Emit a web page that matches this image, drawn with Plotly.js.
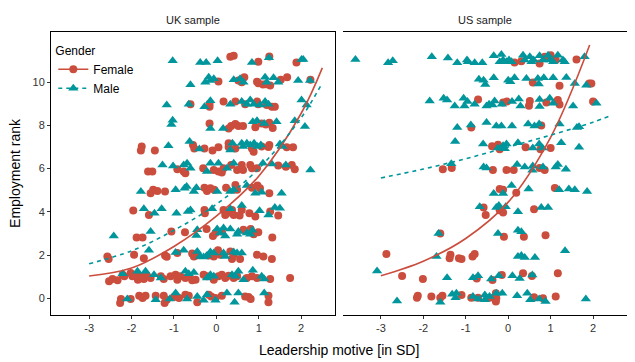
<!DOCTYPE html>
<html>
<head>
<meta charset="utf-8">
<script src="https://cdn.plot.ly/plotly-3.0.1.min.js"></script>
<style>html,body{margin:0;padding:0;background:#fff;}#chart{width:635px;height:362px;}</style>
</head>
<body>
<div id="chart"></div>
<script>
// ---------- DATA ----------
const panels = ["UK sample", "US sample"];
const genders = ["Female", "Male"];
const xTickVals = [-3, -2, -1, 0, 1, 2];
const xTickText = ["-3", "-2", "-1", "0", "1", "2"];
const yTickVals = [0, 2, 4, 6, 8, 10];
const yTickText = ["0", "2", "4", "6", "8", "10"];

// UK sample, Female (x = leadership motive, y = jittered employment rank)
const ukFemaleX = [0.33,0.41,0.99,1.25,1.89,
 0.05,0.52,0.66,0.60,0.96,0.99,1.10,1.17,1.27,1.52,1.67,2.22,
 -0.61,-0.16,-0.16,0.17,0.45,0.68,0.96,0.99,1.19,1.31,1.38,
 -0.16,0.29,0.35,0.45,0.52,0.63,0.92,1.07,1.17,1.25,1.33,
 -1.76,-1.78,-1.45,-0.55,-0.52,-0.28,-0.09,0.05,0.29,0.29,0.45,0.84,0.88,1.07,1.25,1.23,1.66,1.81,
 -1.61,-1.51,-0.92,-0.77,-0.73,-0.31,-0.06,0.05,0.13,0.17,0.35,0.49,0.60,0.63,0.80,0.84,0.96,1.46,1.64,1.78,1.85,
 -1.55,-1.49,-1.39,-1.21,-0.28,-0.22,-0.14,-0.05,0.23,0.45,0.49,0.84,0.97,1.03,1.25,
 -1.96,-1.59,-0.28,-0.27,0.17,0.21,0.25,0.37,0.41,0.60,0.55,0.78,0.92,1.27,1.46,
 -1.88,-1.74,-1.06,-0.74,-0.23,-0.08,-0.02,0.13,0.64,0.81,0.88,0.99,1.32,
 -2.57,-2.54,-1.94,-1.71,-1.21,-1.17,-0.92,-0.57,-0.53,-0.47,-0.18,-0.06,0.04,0.09,0.33,0.37,0.41,0.56,0.96,1.11,1.31,
 -2.53,-2.45,-2.33,-2.21,-2.17,-2.02,-1.98,-1.90,-1.85,-1.78,-1.71,-1.64,-1.55,-1.31,-1.24,-1.08,-0.96,-0.92,-0.85,-0.73,-0.65,-0.57,-0.49,-0.30,-0.22,-0.06,0.05,0.13,0.21,0.29,0.41,0.49,0.72,0.84,0.96,1.27,1.74,
 -2.25,-2.27,-2.02,-1.82,-1.74,-1.67,-1.43,-1.24,-1.17,-1.22,-1.00,-0.88,-0.73,-0.65,-0.45,-0.18,-0.12,-0.02,0.13,0.68,0.76,0.81,1.23,1.23];
const ukFemaleY = [11.17,11.22,10.94,11.19,10.91,
 10.03,10.08,10.23,10.00,10.02,9.95,9.89,9.90,9.85,10.11,10.23,10.11,
 8.98,8.86,9.00,9.10,9.10,8.98,9.10,8.98,8.94,8.86,8.86,
 8.09,7.86,7.97,8.06,7.97,7.97,7.91,8.09,8.04,8.12,7.88,
 7.02,6.84,6.84,7.09,6.93,6.93,6.84,6.99,7.17,7.00,6.93,6.93,6.78,7.02,7.09,7.00,6.99,6.99,
 5.87,5.87,5.97,5.87,5.79,6.02,5.94,5.87,5.82,6.02,6.17,5.94,6.17,5.94,6.17,6.02,6.02,6.14,6.09,6.17,5.97,
 4.86,5.02,4.97,4.94,5.12,4.97,5.09,5.02,5.12,5.24,5.02,5.12,5.22,5.09,4.86,
 4.06,3.86,4.09,3.94,4.09,3.86,3.94,4.09,3.86,4.09,3.83,3.94,3.79,4.02,3.83,
 2.82,2.82,3.09,3.06,3.21,2.88,3.02,3.09,3.17,3.21,2.97,3.06,2.82,
 1.94,1.82,2.02,1.86,1.98,1.92,2.10,2.07,1.94,1.98,1.98,1.94,2.22,2.02,2.17,1.82,2.02,1.82,2.02,1.94,1.82,
 0.79,0.90,0.84,1.09,1.02,1.17,1.02,1.09,0.86,1.02,0.90,1.05,0.94,1.02,0.90,1.02,1.09,0.86,1.02,0.94,1.02,0.84,0.86,1.09,1.02,0.86,1.02,1.09,0.94,1.05,0.94,1.02,0.94,1.02,0.94,0.90,0.94,
 -0.03,-0.21,-0.03,0.12,0.02,0.12,0.12,0.12,-0.06,-0.21,0.06,0.02,0.17,0.12,-0.18,0.17,0.09,0.02,0.12,0.09,0.06,-0.03,0.12,-0.18];

// UK sample, Male
const ukMaleX = [-1.03,-0.38,-0.24,0.03,0.84,1.24,2.01,2.05,
 -0.61,-0.26,-0.18,-0.14,-0.06,0.41,0.56,0.64,1.15,1.19,1.35,1.46,1.93,2.21,
 -1.17,-0.65,-0.28,-0.14,0.33,0.60,0.72,0.80,0.88,1.03,1.15,1.23,2.01,2.13,
 -1.03,-1.06,-0.14,0.16,0.86,0.96,1.13,1.42,1.85,2.09,
 -1.13,-0.63,-0.40,0.33,0.38,0.60,0.63,0.72,0.80,0.89,0.97,1.05,1.50,1.56,
 -1.27,-1.02,-0.77,-0.69,-0.61,-0.22,-0.14,0.05,0.25,0.41,1.10,1.31,1.64,2.22,
 -1.78,-0.96,-0.75,-0.70,-0.53,-0.47,0.02,0.33,0.41,0.72,0.92,1.07,1.54,
 -1.71,-1.46,-1.29,-0.94,-0.67,-0.61,-0.10,0.33,0.60,1.02,1.23,1.38,1.50,
 -2.42,-1.55,-0.45,-0.47,0.02,0.09,0.17,0.21,0.33,0.49,0.52,0.72,0.80,0.85,
 -1.59,-0.96,-0.77,-0.45,-0.38,-0.30,-0.22,-0.14,-0.06,0.17,0.21,0.41,0.49,0.60,
 -2.21,-1.86,-1.67,-1.47,-1.31,-0.73,-0.65,-0.53,-0.22,-0.14,-0.06,0.37,0.45,0.52,0.64,0.86,1.07,1.13,
 -2.10,-1.43,-1.10,-0.96,-0.69,-0.45,-0.30,-0.22,-0.02,0.25,0.43,0.52,1.13];
const ukMaleY = [10.99,10.91,10.91,10.99,10.91,11.13,11.05,11.05,
 9.88,10.00,10.23,10.08,10.16,10.11,10.16,10.00,10.23,10.00,10.20,10.00,10.08,10.08,
 8.94,8.98,8.86,9.14,8.98,9.10,8.98,9.17,8.98,8.94,9.10,8.98,9.17,8.94,
 8.24,8.04,7.86,7.86,8.17,8.22,8.09,8.17,8.22,7.95,
 7.06,7.25,6.91,6.86,7.17,7.17,7.02,7.17,7.09,7.17,7.02,7.09,7.14,7.02,
 6.17,6.12,6.17,6.25,6.02,5.87,6.25,6.25,6.02,6.25,6.25,6.22,6.17,5.94,
 4.94,5.02,5.09,5.17,4.94,5.12,4.94,4.94,5.02,5.22,4.86,4.91,4.86,
 4.14,3.94,4.14,3.94,4.02,4.09,4.14,4.14,4.30,4.05,3.86,4.20,4.17,
 2.88,3.09,3.17,2.91,3.21,3.02,3.25,2.88,3.21,2.97,3.09,3.02,2.97,3.15,
 2.22,2.12,2.22,2.17,1.94,1.91,1.98,2.14,2.10,2.10,1.94,2.14,2.10,2.10,
 1.14,1.25,1.25,1.09,0.94,1.25,1.14,1.20,0.94,1.09,1.02,1.09,1.02,1.25,0.86,1.30,1.02,0.90,
 -0.03,-0.06,-0.03,0.25,-0.03,0.09,-0.09,0.17,-0.09,0.25,-0.18,0.25,0.25];

// US sample, Female
const usFemaleX = [0.15,0.31,0.74,0.86,1.00,1.12,1.61,
 0.58,1.21,1.91,1.96,
 -0.71,-0.12,-0.03,0.51,0.49,0.90,1.17,1.21,2.00,
 -0.87,0.78,
 -0.38,-0.24,-0.20,0.41,0.76,1.00,
 -1.54,-1.33,-0.36,-0.04,0.13,0.74,0.86,
 -0.20,-0.12,0.19,1.10,
 -0.58,-0.53,-0.20,-0.12,0.61,
 -1.60,-0.10,0.37,0.88,
 -2.87,-1.36,-1.38,-1.16,-1.10,-0.84,-0.79,
 -2.50,-2.01,-0.74,-0.37,-0.15,0.35,0.56,1.17,
 -2.15,-2.13,-1.81,-1.55,-1.60,-1.10,-0.87,-0.71,-0.44,-0.29,-0.29,-0.28,0.61,0.82,1.12];
const usFemaleY = [10.91,10.97,10.86,11.17,11.25,11.02,11.05,
 9.98,9.83,9.94,9.94,
 9.20,9.06,9.10,9.13,8.91,9.06,9.17,8.97,9.10,
 7.90,7.99,
 7.04,7.11,6.90,6.99,6.90,6.95,
 5.97,6.03,5.94,5.94,5.94,6.03,5.94,
 5.06,5.02,4.89,5.11,
 4.20,3.85,4.08,3.97,4.12,
 3.00,2.85,2.85,2.92,
 2.05,2.02,1.86,1.86,1.82,1.94,2.05,
 1.03,0.89,0.92,0.85,1.08,1.16,1.03,1.16,
 0.03,0.12,0.08,0.12,0.03,0.16,0.03,0.03,0.03,0.24,-0.15,0.00,0.05,0.00,0.08];

// US sample, Male
const usMaleX = [-3.60,-2.83,-2.72,-1.80,-1.42,-1.20,-0.97,-0.95,-0.79,-0.61,-0.34,-0.20,-0.16,-0.12,-0.04,0.02,0.08,0.35,0.39,0.51,0.55,0.60,0.74,0.82,0.94,0.98,1.06,1.17,1.29,1.33,1.80,
 -0.69,-0.58,-0.54,-0.34,0.00,0.05,0.15,0.43,0.72,0.70,0.84,1.06,1.37,1.57,1.84,
 -1.85,-1.52,-1.44,-1.26,-1.05,-1.03,-0.96,-0.79,-0.51,-0.45,-0.37,-0.32,-0.15,0.09,0.25,0.29,0.74,0.74,0.98,1.06,1.53,2.08,
 -1.20,-0.88,-0.51,-0.28,-0.16,0.09,0.47,0.62,0.73,1.21,1.62,1.67,
 -1.25,-0.59,-0.24,-0.12,-0.04,-0.08,0.23,0.58,0.73,0.81,1.25,1.67,
 -1.34,-0.58,-0.51,0.21,0.39,0.58,0.57,0.82,1.12,1.17,1.36,
 -0.34,-0.12,0.08,0.48,1.20,1.43,1.57,1.86,
 -0.67,-0.28,-0.22,-0.06,0.23,0.78,0.94,
 -1.64,-0.24,0.23,0.31,
 -1.69,0.23,0.31,0.39,0.63,1.34,
 -3.09,-1.44,-0.83,-0.71,-0.40,-0.22,0.10,0.27,0.57,
 -2.62,-1.60,-1.32,-1.22,-1.24,-0.83,-0.71,-0.55,-0.55,-0.44,-0.28,-0.14,0.21,0.45,0.52,0.73,0.88,1.83];
const usMaleY = [11.05,10.90,10.99,11.17,11.12,10.90,11.02,10.94,10.90,10.90,11.22,10.94,11.28,11.02,10.94,11.02,10.94,11.25,11.02,11.17,10.94,11.02,11.22,11.02,11.25,11.02,10.94,11.25,11.02,10.94,11.17,
 10.14,10.09,9.89,10.20,10.09,10.02,10.20,10.17,9.91,10.17,10.20,10.20,10.22,9.94,9.86,
 9.13,9.25,9.17,8.90,9.25,8.90,9.10,8.98,8.90,8.98,8.94,9.13,8.98,9.10,9.22,8.90,9.20,8.87,9.25,9.02,8.90,9.02,
 7.90,8.02,8.13,7.97,7.97,7.97,8.06,7.97,8.06,8.06,7.90,7.94,
 7.25,7.14,6.95,7.06,7.14,6.92,7.20,6.95,7.14,6.95,7.20,6.99,
 6.23,6.08,6.03,6.19,6.08,6.12,5.92,6.08,6.08,6.19,5.97,
 4.85,4.85,5.22,5.06,5.02,5.06,5.02,4.94,
 4.24,4.20,4.29,4.24,4.01,4.20,4.20,
 3.00,3.00,3.15,3.08,
 1.94,1.94,1.98,1.89,1.89,2.20,
 1.26,0.95,0.95,1.04,0.89,1.04,1.04,0.92,1.08,
 -0.12,-0.18,0.19,0.24,0.03,0.08,-0.03,0.16,-0.07,0.08,0.24,0.24,0.12,0.24,-0.07,-0.03,-0.15,-0.03];

// Fitted curves
const ukFemaleFitX = [-3, -2, -1, 0, 1, 2, 2.5];
const ukFemaleFitY = [1.03, 1.40, 2.40, 3.80, 5.65, 8.55, 10.66];
const ukMaleFitX = [-3, -2, -1, 0, 1, 2, 2.5];
const ukMaleFitY = [1.60, 2.20, 3.15, 4.35, 6.00, 8.35, 9.97];
const usFemaleFitX = [-3, -2, -1, 0, 1, 1.92];
const usFemaleFitY = [1.05, 1.72, 2.77, 4.45, 7.45, 11.72];
const usMaleFitX = [-3, -2, -1, 0, 1, 2, 2.43];
const usMaleFitY = [5.57, 5.98, 6.46, 7.00, 7.55, 8.15, 8.46];

// ---------- STYLE ----------
const RED = "#CB4D3D";
const TEAL = "#00969B";
const FONT = "Liberation Sans, Arial, sans-serif";

function pts(x, y, color, symbol, size, xa, ya) {
  return {type: "scatter", mode: "markers", x: x, y: y, xaxis: xa, yaxis: ya,
    marker: {color: color, symbol: symbol, size: size, line: {width: 0}},
    showlegend: false, hoverinfo: "skip"};
}
function fit(x, y, color, dash, xa, ya) {
  return {type: "scatter", mode: "lines", x: x, y: y, xaxis: xa, yaxis: ya,
    line: {color: color, width: 1.6, dash: dash, shape: "spline"},
    showlegend: false, hoverinfo: "skip"};
}

const data = [
  pts(ukFemaleX, ukFemaleY, RED, "circle", 8, "x", "y"),
  pts(ukMaleX, ukMaleY, TEAL, "triangle-up", 9, "x", "y"),
  pts(usFemaleX, usFemaleY, RED, "circle", 8, "x2", "y"),
  pts(usMaleX, usMaleY, TEAL, "triangle-up", 9, "x2", "y"),
  fit(ukFemaleFitX, ukFemaleFitY, RED, "solid", "x", "y"),
  fit(ukMaleFitX, ukMaleFitY, TEAL, "4px,4px", "x", "y"),
  fit(usFemaleFitX, usFemaleFitY, RED, "solid", "x2", "y"),
  fit(usMaleFitX, usMaleFitY, TEAL, "4px,4px", "x2", "y"),
  // legend entries
  {type: "scatter", mode: "lines+markers", x: [null], y: [null], name: genders[0],
    line: {color: RED, width: 1.6}, marker: {color: RED, symbol: "circle", size: 8}, showlegend: true},
  {type: "scatter", mode: "lines+markers", x: [null], y: [null], name: genders[1],
    line: {color: TEAL, width: 1.6, dash: "4px,4px"}, marker: {color: TEAL, symbol: "triangle-up", size: 9}, showlegend: true}
];

const xCommon = {
  range: [-3.9, 2.8], tickvals: xTickVals, ticktext: xTickText,
  showgrid: false, zeroline: false, showline: true, mirror: true,
  linecolor: "#000", linewidth: 1, ticks: "outside", ticklen: 3, tickcolor: "#333",
  tickfont: {family: FONT, size: 11, color: "#333"}, anchor: "y"
};

const layout = {
  width: 635, height: 362,
  margin: {l: 50.7, r: 7.7, t: 31.5, b: 47, pad: 0},
  paper_bgcolor: "#fff", plot_bgcolor: "#fff",
  font: {family: FONT, color: "#000"},
  xaxis: Object.assign({}, xCommon, {domain: [0, 0.4931]}),
  xaxis2: Object.assign({}, xCommon, {domain: [0.5064, 1]}),
  yaxis: {
    range: [-0.77, 12.32], domain: [0, 1], tickvals: yTickVals, ticktext: yTickText,
    showgrid: false, zeroline: false, showline: true, mirror: true,
    linecolor: "#000", linewidth: 1, ticks: "outside", ticklen: 3, tickcolor: "#333",
    tickfont: {family: FONT, size: 11, color: "#333"},
    title: {text: "Employment rank", font: {family: FONT, size: 14, color: "#000"}, standoff: 8}
  },
  showlegend: true,
  legend: {
    x: 0.004, y: 0.975, xanchor: "left", yanchor: "top",
    bgcolor: "rgba(0,0,0,0)", borderwidth: 0,
    font: {family: FONT, size: 12, color: "#000"},
    title: {text: "Gender", font: {family: FONT, size: 12, color: "#000"}},
    tracegroupgap: 0
  },
  annotations: [
    {text: panels[0], xref: "x domain", yref: "paper", x: 0.5, y: 1, yshift: 12, showarrow: false,
     font: {family: FONT, size: 11, color: "#1a1a1a"}, xanchor: "center", yanchor: "middle"},
    {text: panels[1], xref: "x2 domain", yref: "paper", x: 0.5, y: 1, yshift: 12, showarrow: false,
     font: {family: FONT, size: 11, color: "#1a1a1a"}, xanchor: "center", yanchor: "middle"},
    {text: "Leadership motive [in SD]", xref: "paper", yref: "paper", x: 0.5, y: 0, yshift: -35,
     showarrow: false, font: {family: FONT, size: 14, color: "#000"}, xanchor: "center", yanchor: "middle"}
  ]
};

Plotly.newPlot("chart", data, layout, {staticPlot: true, displayModeBar: false});
</script>
</body>
</html>
